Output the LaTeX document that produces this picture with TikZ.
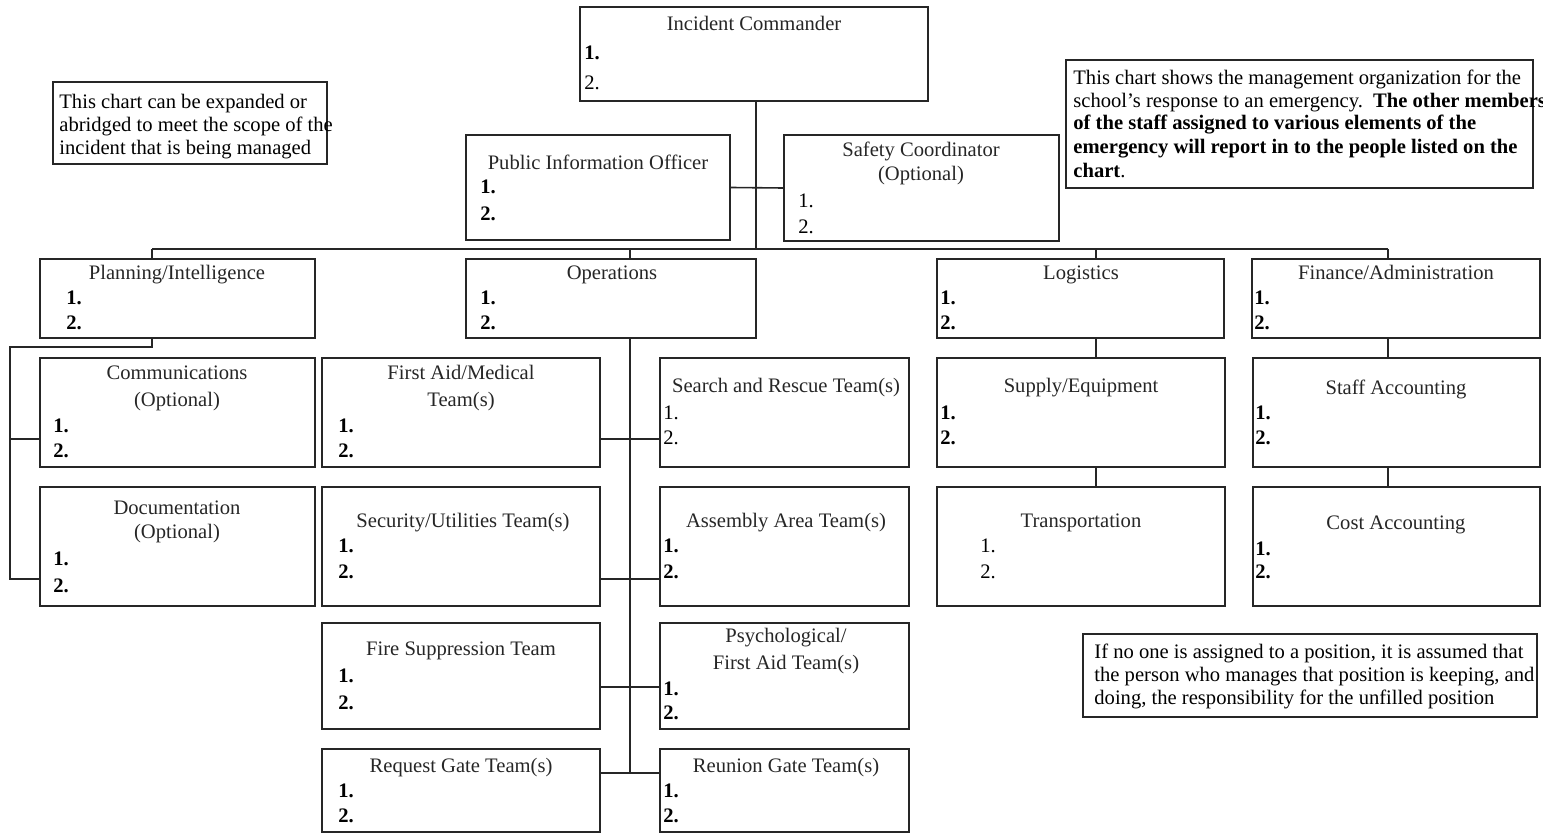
\documentclass[tikz,border=0pt]{standalone}
\usepackage{fontspec}
\setmainfont{Liberation Serif}
\usetikzlibrary{fit,calc}
\tikzset{
  box/.style={draw=black!85, line width=1pt, inner sep=0pt, fill=none},
  conn/.style={draw=black!85, line width=0.8pt},
  ttl/.style={inner sep=0pt, anchor=mid, yshift=-1.5pt, font=\fontsize{10.3}{12}\selectfont, text=black!85},
  num/.style={inner sep=0pt, anchor=mid west, yshift=-1.5pt, font=\fontsize{10.3}{12}\selectfont},
  numb/.style={num, font=\fontsize{10.3}{12}\selectfont\bfseries},
  note/.style={inner sep=0pt, anchor=mid west, yshift=-1.5pt, font=\fontsize{10.3}{12}\selectfont}
}
\newcommand\obox[5]{\node[box, fit={(#2,#3) (#4,#5)}] (#1) {};}
\begin{document}
\begin{tikzpicture}[x=0.5pt,y=-0.5pt]
\useasboundingbox (0,0) rectangle (1543,834);

% ---------- boxes ----------
\obox{ic}{580}{7}{928}{101}
\node[ttl] (ic-t) at (754,23) {Incident Commander};
\node[numb] (ic-1) at (584,52) {1.};
\node[num] (ic-2) at (584,82) {2.};

\obox{lnote}{53}{82}{327}{164}
\node[note] (lnote-1) at (59,101) {This chart can be expanded or};
\node[note] (lnote-2) at (59,124) {abridged to meet the scope of the};
\node[note] (lnote-3) at (59,147) {incident that is being managed};

\obox{pio}{466}{135}{730}{240}
\node[ttl] (pio-t) at (598,162) {Public Information Officer};
\node[numb] (pio-1) at (480,186) {1.};
\node[numb] (pio-2) at (480,213) {2.};

\obox{sc}{784}{135}{1059}{241}
\node[ttl] (sc-t) at (921,149) {Safety Coordinator};
\node[ttl] (sc-t2) at (921,173) {(Optional)};
\node[num] (sc-1) at (798,200) {1.};
\node[num] (sc-2) at (798,226) {2.};

\obox{rnote}{1066}{60}{1533}{188}
\node[note] (rnote-1) at (1073,77) {This chart shows the management organization for the};
\node[note] (rnote-2) at (1073,100) {school's response to an emergency.\ \ \textbf{The other members}};
\node[note] (rnote-3) at (1073,122) {\textbf{of the staff assigned to various elements of the}};
\node[note] (rnote-4) at (1073,146) {\textbf{emergency will report in to the people listed on the}};
\node[note] (rnote-5) at (1073,170) {\textbf{chart}.};

\obox{plan}{40}{259}{315}{338}
\node[ttl] (plan-t) at (177,272) {Planning/Intelligence};
\node[numb] (plan-1) at (66,297) {1.};
\node[numb] (plan-2) at (66,322) {2.};

\obox{ops}{466}{259}{756}{338}
\node[ttl] (ops-t) at (612,272) {Operations};
\node[numb] (ops-1) at (480,297) {1.};
\node[numb] (ops-2) at (480,322) {2.};

\obox{log}{937}{259}{1224}{338}
\node[ttl] (log-t) at (1081,272) {Logistics};
\node[numb] (log-1) at (940,297) {1.};
\node[numb] (log-2) at (940,322) {2.};

\obox{fin}{1252}{259}{1540}{338}
\node[ttl] (fin-t) at (1396,272) {Finance/Administration};
\node[numb] (fin-1) at (1254,297) {1.};
\node[numb] (fin-2) at (1254,322) {2.};

\obox{comm}{40}{358}{315}{467}
\node[ttl] (comm-t) at (177,372) {Communications};
\node[ttl] (comm-t2) at (177,399) {(Optional)};
\node[numb] (comm-1) at (53,425) {1.};
\node[numb] (comm-2) at (53,450) {2.};

\obox{doc}{40}{487}{315}{606}
\node[ttl] (doc-t) at (177,507) {Documentation};
\node[ttl] (doc-t2) at (177,531) {(Optional)};
\node[numb] (doc-1) at (53,558) {1.};
\node[numb] (doc-2) at (53,585) {2.};

\obox{fa}{322}{358}{600}{467}
\node[ttl] (fa-t) at (461,372) {First Aid/Medical};
\node[ttl] (fa-t2) at (461,399) {Team(s)};
\node[numb] (fa-1) at (338,425) {1.};
\node[numb] (fa-2) at (338,450) {2.};

\obox{sec}{322}{487}{600}{606}
\node[ttl] (sec-t) at (463,520) {Security/Utilities Team(s)};
\node[numb] (sec-1) at (338,545) {1.};
\node[numb] (sec-2) at (338,571) {2.};

\obox{fire}{322}{623}{600}{729}
\node[ttl] (fire-t) at (461,648) {Fire Suppression Team};
\node[numb] (fire-1) at (338,675) {1.};
\node[numb] (fire-2) at (338,702) {2.};

\obox{req}{322}{749}{600}{832}
\node[ttl] (req-t) at (461,765) {Request Gate Team(s)};
\node[numb] (req-1) at (338,790) {1.};
\node[numb] (req-2) at (338,815) {2.};

\obox{sr}{660}{358}{909}{467}
\node[ttl] (sr-t) at (786,385) {Search and Rescue Team(s)};
\node[num] (sr-1) at (663,412) {1.};
\node[num] (sr-2) at (663,437) {2.};

\obox{asm}{660}{487}{909}{606}
\node[ttl] (asm-t) at (786,520) {Assembly Area Team(s)};
\node[numb] (asm-1) at (663,545) {1.};
\node[numb] (asm-2) at (663,571) {2.};

\obox{psy}{660}{623}{909}{729}
\node[ttl] (psy-t) at (786,635) {Psychological/};
\node[ttl] (psy-t2) at (786,662) {First Aid Team(s)};
\node[numb] (psy-1) at (663,688) {1.};
\node[numb] (psy-2) at (663,712) {2.};

\obox{reu}{660}{749}{909}{832}
\node[ttl] (reu-t) at (786,765) {Reunion Gate Team(s)};
\node[numb] (reu-1) at (663,790) {1.};
\node[numb] (reu-2) at (663,815) {2.};

\obox{sup}{937}{358}{1225}{467}
\node[ttl] (sup-t) at (1081,385) {Supply/Equipment};
\node[numb] (sup-1) at (940,412) {1.};
\node[numb] (sup-2) at (940,437) {2.};

\obox{tra}{937}{487}{1225}{606}
\node[ttl] (tra-t) at (1081,520) {Transportation};
\node[num] (tra-1) at (980,545) {1.};
\node[num] (tra-2) at (980,571) {2.};

\obox{staff}{1253}{358}{1540}{467}
\node[ttl] (staff-t) at (1396,387) {Staff Accounting};
\node[numb] (staff-1) at (1255,412) {1.};
\node[numb] (staff-2) at (1255,437) {2.};

\obox{cost}{1253}{487}{1540}{606}
\node[ttl] (cost-t) at (1396,522) {Cost Accounting};
\node[numb] (cost-1) at (1255,548) {1.};
\node[numb] (cost-2) at (1255,571) {2.};

\obox{bnote}{1083}{634}{1537}{717}
\node[note] (bnote-1) at (1094,651) {If no one is assigned to a position, it is assumed that};
\node[note] (bnote-2) at (1094,674) {the person who manages that position is keeping, and};
\node[note] (bnote-3) at (1094,697) {doing, the responsibility for the unfilled position};

% ---------- connectors ----------
\coordinate (bPlan) at (152,249);
\coordinate (bOps) at (630,249);
\coordinate (bLog) at (1096,249);
\coordinate (bFin) at (1388,249);
\coordinate (bIC) at (756,249);

\draw[conn] (ic.south -| bIC) -- (bIC);
\draw[conn] (pio.east) -- (sc.west);
\draw[conn] (bPlan) -- (bFin);
\draw[conn] (bPlan) -- (bPlan |- plan.north);
\draw[conn] (bOps) -- (bOps |- ops.north);
\draw[conn] (bLog) -- (bLog |- log.north);
\draw[conn] (bFin) -- (bFin |- fin.north);

% planning branch
\coordinate (pTurn) at (152,347);
\coordinate (pLeft) at (10,347);
\coordinate (rowC) at (10,439);
\coordinate (rowD) at (10,579);
\draw[conn] (bPlan |- plan.south) -- (pTurn) -- (pLeft) -- (rowD) -- (doc.west |- rowD);
\draw[conn] (rowC) -- (comm.west |- rowC);

% operations branch
\coordinate (r1) at (630,439);
\coordinate (r2) at (630,579);
\coordinate (r3) at (630,687);
\coordinate (r4) at (630,773);
\draw[conn] (bOps |- ops.south) -- (r4);
\draw[conn] (fa.east |- r1) -- (sr.west |- r1);
\draw[conn] (sec.east |- r2) -- (asm.west |- r2);
\draw[conn] (fire.east |- r3) -- (psy.west |- r3);
\draw[conn] (req.east |- r4) -- (reu.west |- r4);

% logistics and finance branches
\draw[conn] (bLog |- log.south) -- (bLog |- sup.north);
\draw[conn] (bLog |- sup.south) -- (bLog |- tra.north);
\draw[conn] (bFin |- fin.south) -- (bFin |- staff.north);
\draw[conn] (bFin |- staff.south) -- (bFin |- cost.north);
\end{tikzpicture}
\end{document}
